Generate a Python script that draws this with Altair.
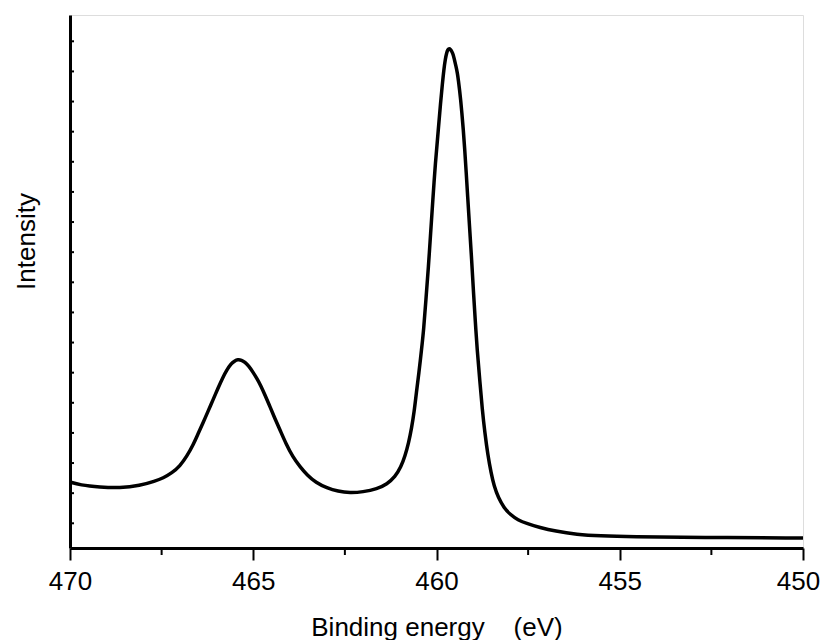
import altair as alt
import pandas as pd

# Binding energy (eV) and intensity (a.u.)
binding_energy = [
    470.00, 469.73, 469.18, 468.64, 468.09, 467.68, 467.46, 467.22, 467.00, 466.81,
    466.64, 466.51, 466.37, 466.23, 466.10, 465.96, 465.83, 465.72, 465.61, 465.51,
    465.42, 465.32, 465.23, 465.12, 465.01, 464.90, 464.79, 464.68, 464.54, 464.41,
    464.27, 464.11, 463.92, 463.72, 463.53, 463.29, 462.99, 462.69, 462.36, 462.01,
    461.62, 461.35, 461.13, 460.97, 460.86, 460.76, 460.68, 460.61, 460.55, 460.48,
    460.41, 460.35, 460.29, 460.22, 460.16, 460.10, 460.03, 459.95, 459.89, 459.84,
    459.80, 459.76, 459.72, 459.69, 459.65, 459.62, 459.58, 459.54, 459.51, 459.47,
    459.43, 459.40, 459.37, 459.34, 459.31, 459.27, 459.23, 459.19, 459.15, 459.10,
    459.04, 458.99, 458.94, 458.89, 458.82, 458.75, 458.68, 458.60, 458.51, 458.43,
    458.31, 458.16, 457.99, 457.78, 457.53, 457.18, 456.77, 456.17, 455.54, 454.72,
    452.81, 450.00,
]
intensity = [
    2.37, 2.27, 2.20, 2.17, 2.25, 2.40, 2.50, 2.67, 2.90, 3.23,
    3.60, 3.96, 4.33, 4.73, 5.09, 5.49, 5.84, 6.09, 6.29, 6.39,
    6.44, 6.42, 6.35, 6.22, 6.02, 5.81, 5.56, 5.26, 4.86, 4.48,
    4.10, 3.65, 3.20, 2.87, 2.60, 2.35, 2.17, 2.06, 2.01, 2.04,
    2.14, 2.30, 2.54, 2.87, 3.23, 3.67, 4.16, 4.69, 5.33, 5.99,
    6.75, 7.42, 8.41, 9.51, 10.64, 11.73, 12.99, 14.06, 14.95, 15.58,
    16.05, 16.41, 16.63, 16.73, 16.76, 16.73, 16.66, 16.55, 16.38, 16.18,
    15.95, 15.68, 15.38, 15.05, 14.65, 14.09, 13.42, 12.66, 11.86, 10.87,
    9.74, 8.64, 7.68, 6.75, 5.76, 4.76, 4.00, 3.27, 2.67, 2.24,
    1.84, 1.52, 1.29, 1.11, 0.99, 0.86, 0.74, 0.63, 0.58, 0.55,
    0.53, 0.51,
]
x_major_ticks = [470, 465, 460, 455, 450]
x_minor_ticks = [467.5, 462.5, 457.5, 452.5]
y_ticks = list(range(1, 18))

df = pd.DataFrame({"BE": binding_energy, "I": intensity})
df_xminor = pd.DataFrame({"BE": x_minor_ticks})
df_yt = pd.DataFrame({"I": y_ticks})

FONT = "Liberation Sans"
W, H = 733, 533

x_scale = alt.Scale(domain=[450, 470], reverse=True, nice=False, zero=False)
y_scale = alt.Scale(domain=[0.18, 17.873], nice=False, zero=False)

x_axis = alt.Axis(
    values=x_major_ticks, format="d", title="Binding energy\u00a0\u00a0\u00a0\u00a0(eV)",
    labelFont=FONT, labelFontSize=26, labelColor="black", labelPadding=8, labelFlush=False,
    labelOffset={"condition": {"test": "datum.value == 450", "value": -5}, "value": 0},
    tickSize=12, tickWidth=2, tickColor="black",
    domainWidth=3, domainColor="black", grid=False,
    titleFont=FONT, titleFontSize=26, titleFontWeight="normal", titleColor="black",
    titleY=87, titleBaseline="alphabetic",
)
y_axis = alt.Axis(
    title="Intensity", labels=False, ticks=False, grid=False,
    domainWidth=3, domainColor="black",
    titleFont=FONT, titleFontSize=26, titleFontWeight="normal", titleColor="black",
    titleAngle=270, titleX=-36, titleY=226, titleAlign="center", titleBaseline="alphabetic",
)

line = alt.Chart(df).mark_line(color="black", strokeWidth=3.5, interpolate="basis").encode(
    x=alt.X("BE:Q", scale=x_scale, axis=x_axis),
    y=alt.Y("I:Q", scale=y_scale, axis=y_axis),
    order=alt.Order("BE:Q", sort="descending"),
)

x_minor = alt.Chart(df_xminor).mark_rule(color="black", strokeWidth=2).encode(
    x=alt.X("BE:Q", scale=x_scale, axis=x_axis),
    y=alt.value(H),
    y2=alt.value(H + 7),
)

y_minor = alt.Chart(df_yt).mark_rule(color="black", strokeWidth=2).encode(
    y=alt.Y("I:Q", scale=y_scale, axis=y_axis),
    x=alt.value(0),
    x2=alt.value(4),
)

chart = alt.layer(line, x_minor, y_minor).properties(
    width=W, height=H,
    padding={"left": 62, "top": 7, "right": 19, "bottom": 92},
    autosize=alt.AutoSizeParams(type="none"),
).configure_view(strokeWidth=0).configure(background="white")

chart.save("out.html", embed_options={"renderer": "svg", "actions": False})
